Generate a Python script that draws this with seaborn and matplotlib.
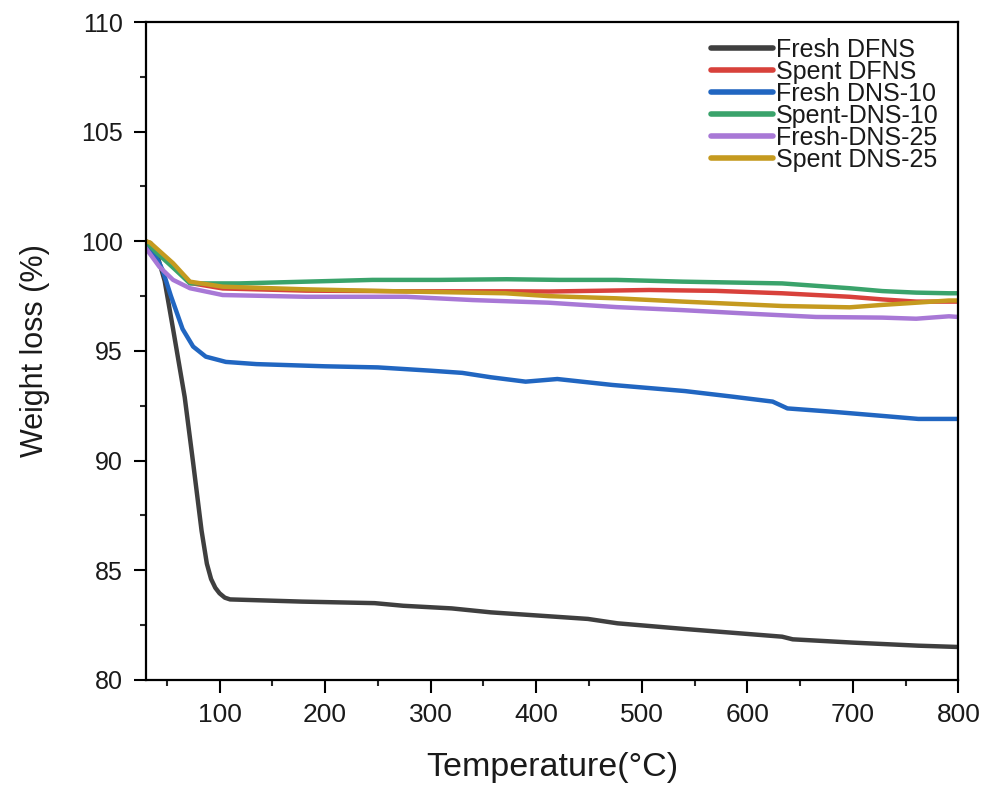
import numpy as np
import pandas as pd
import matplotlib
matplotlib.use("Agg")
import matplotlib.pyplot as plt
import seaborn as sns
from matplotlib.ticker import MultipleLocator

series_names = ["Fresh DFNS", "Spent DFNS", "Fresh DNS-10", "Spent-DNS-10", "Fresh-DNS-25", "Spent DNS-25"]

fresh_dfns_T = [30, 35, 42, 48, 56, 67, 75, 83, 88, 92, 96, 100, 105, 110, 178, 247, 274, 320, 357, 449, 477, 541, 633, 643, 700, 762, 800]
fresh_dfns_W = [100, 99.9, 99.2, 98.2, 96.0, 92.9, 89.9, 86.8, 85.3, 84.6, 84.2, 83.95, 83.75, 83.67, 83.57, 83.5, 83.38, 83.26, 83.08, 82.78, 82.58, 82.32, 81.97, 81.85, 81.7, 81.56, 81.5]

spent_dfns_T = [30, 40, 56, 72, 103, 182, 277, 372, 412, 507, 570, 633, 697, 728, 760, 800]
spent_dfns_W = [100, 99.6, 98.9, 98.1, 97.85, 97.75, 97.72, 97.72, 97.71, 97.78, 97.74, 97.63, 97.47, 97.35, 97.25, 97.25]

fresh_dns10_T = [30, 40, 46, 54, 65, 75, 87, 106, 135, 200, 250, 300, 330, 357, 390, 420, 472, 541, 587, 624, 638, 680, 725, 762, 800]
fresh_dns10_W = [100, 99.3, 98.7, 97.5, 96.0, 95.2, 94.74, 94.5, 94.4, 94.3, 94.25, 94.1, 94.0, 93.8, 93.6, 93.72, 93.45, 93.17, 92.91, 92.69, 92.38, 92.23, 92.05, 91.9, 91.9]

spent_dns10_T = [30, 40, 56, 72, 119, 182, 245, 308, 372, 422, 476, 539, 633, 697, 728, 760, 791, 800]
spent_dns10_W = [100, 99.5, 98.8, 98.08, 98.08, 98.16, 98.24, 98.24, 98.27, 98.24, 98.24, 98.16, 98.08, 97.86, 97.73, 97.66, 97.63, 97.63]

fresh_dns25_T = [30, 43, 56, 72, 103, 182, 277, 340, 412, 476, 539, 602, 665, 728, 760, 791, 800]
fresh_dns25_W = [99.7, 98.84, 98.24, 97.86, 97.55, 97.47, 97.47, 97.32, 97.2, 97.0, 96.86, 96.7, 96.55, 96.52, 96.47, 96.58, 96.55]

spent_dns25_T = [30, 34, 56, 72, 103, 182, 277, 371, 412, 476, 539, 633, 697, 728, 760, 791, 800]
spent_dns25_W = [100, 99.95, 99.0, 98.16, 97.93, 97.81, 97.71, 97.63, 97.5, 97.4, 97.25, 97.05, 96.99, 97.1, 97.2, 97.3, 97.3]

colors = ["#3f3f3f", "#d8413b", "#2166c1", "#3aa36b", "#a878d6", "#c59a1f"]

xticks = [100, 200, 300, 400, 500, 600, 700, 800]
yticks = [80, 85, 90, 95, 100, 105, 110]

all_T = [fresh_dfns_T, spent_dfns_T, fresh_dns10_T, spent_dns10_T, fresh_dns25_T, spent_dns25_T]
all_W = [fresh_dfns_W, spent_dfns_W, fresh_dns10_W, spent_dns10_W, fresh_dns25_W, spent_dns25_W]

frames = []
for name, T, W in zip(series_names, all_T, all_W):
    frames.append(pd.DataFrame({"T": T, "W": W, "Sample": name}))
df = pd.concat(frames, ignore_index=True)

sns.set_style("ticks")
plt.rcParams["font.family"] = ["Liberation Sans", "DejaVu Sans"]
plt.rcParams["text.color"] = "#1a1a1a"
plt.rcParams["axes.labelcolor"] = "#1a1a1a"

fig = plt.figure(figsize=(9.84, 7.86), dpi=100)
ax = fig.add_axes([0.148, 0.135, 0.826, 0.837])

sns.lineplot(data=df, x="T", y="W", hue="Sample", hue_order=series_names,
             palette=dict(zip(series_names, colors)), estimator=None, sort=False,
             linewidth=3.2, ax=ax)

ax.set_xlim(30, 800)
ax.set_ylim(80, 110)
ax.set_xticks(xticks)
ax.set_yticks(yticks)
ax.xaxis.set_minor_locator(MultipleLocator(50))
ax.yaxis.set_minor_locator(MultipleLocator(2.5))
ax.tick_params(axis="both", which="major", direction="out", length=9, width=1.5,
               colors="black", top=False, right=False, pad=7.5)
ax.tick_params(axis="both", which="major", labelcolor="#1a1a1a")
ax.tick_params(axis="x", which="major", labelsize=19)
ax.tick_params(axis="y", which="major", labelsize=18)
ax.tick_params(axis="both", which="minor", direction="out", length=4.5, width=1.5,
               top=False, right=False)
for s in ax.spines.values():
    s.set_visible(True)
    s.set_linewidth(1.6)
    s.set_color("black")

ax.set_xlabel("Temperature(\u00b0C)", fontsize=24.5, labelpad=18)
ax.set_ylabel("Weight loss (%)", fontsize=22, labelpad=22)

leg = ax.legend(loc="upper right", frameon=False, fontsize=18, handlelength=2.5,
                handletextpad=0.1, labelspacing=-0.08, borderaxespad=0.3,
                bbox_to_anchor=(0.997, 1.003))
for line in leg.get_lines():
    line.set_linewidth(4)

fig.savefig("out.png", dpi=100)
